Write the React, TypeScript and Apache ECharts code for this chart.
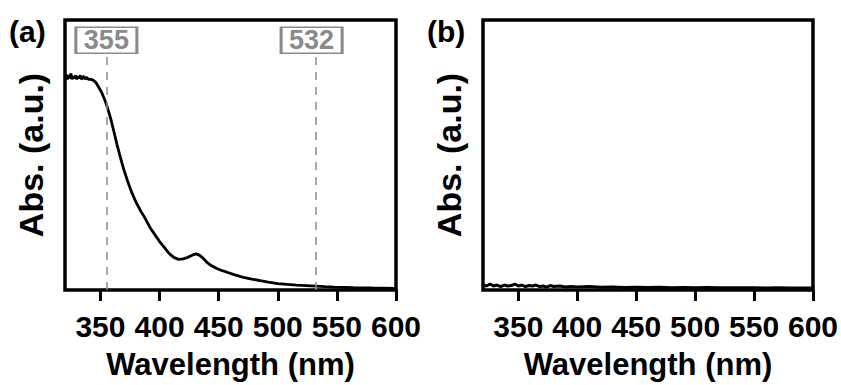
import React, { useEffect, useRef } from "react";
import * as echarts from "echarts";

const tickValues = [350, 400, 450, 500, 550, 600];
const laserLines = [355, 532];

const wavelengthA = [320,321,322,323,324,325,326,327,328,329,330,331,332,333,334,335,336,337,338,339,340,342,344,346,348,350,352,354,356,358,360,362,364,366,368,370,373,376,380,384,388,392,396,400,404,408,412,416,420,424,428,431,434,437,440,444,448,452,457,463,470,478,485,492,500,508,516,524,532,540,548,556,564,572,580,590,600];
const absA = [2.15,2.18,2.13,2.17,2.14,2.19,2.13,2.16,2.14,2.17,2.13,2.16,2.14,2.17,2.13,2.15,2.16,2.13,2.15,2.14,2.13,2.13,2.12,2.10,2.06,2.02,1.97,1.91,1.84,1.76,1.67,1.57,1.47,1.38,1.29,1.21,1.10,1.00,0.89,0.80,0.72,0.63,0.56,0.49,0.43,0.37,0.33,0.31,0.315,0.33,0.355,0.365,0.35,0.32,0.28,0.245,0.22,0.20,0.18,0.155,0.13,0.11,0.095,0.08,0.065,0.057,0.05,0.045,0.04,0.035,0.03,0.027,0.024,0.022,0.02,0.018,0.016];

const wavelengthB = [320,323,326,329,332,335,338,341,344,347,350,353,356,359,362,365,368,371,374,377,380,385,390,395,400,410,420,430,440,450,460,470,480,490,500,510,520,530,540,550,560,570,580,590,600];
const absB = [0.05,0.04,0.06,0.04,0.05,0.035,0.05,0.04,0.045,0.06,0.04,0.05,0.035,0.045,0.04,0.05,0.035,0.04,0.03,0.045,0.035,0.04,0.03,0.035,0.03,0.035,0.028,0.03,0.025,0.028,0.025,0.027,0.024,0.026,0.023,0.025,0.022,0.024,0.022,0.023,0.021,0.022,0.02,0.021,0.02];

const FONT = "Liberation Sans";
const GRAY = "#8a8a8a";

export default function App() {
  const ref = useRef<HTMLDivElement>(null);
  useEffect(() => {
    if (!ref.current) return;
    const chart = echarts.init(ref.current, null, { renderer: "svg" });
    const mkX = (gi: number) => ({
      type: "value",
      gridIndex: gi,
      min: 320,
      max: 600,
      name: "Wavelength (nm)",
      nameLocation: "middle",
      nameGap: 59,
      nameTextStyle: { fontFamily: FONT, fontWeight: "bold", fontSize: 31, color: "#000" },
      axisLine: { show: false },
      axisTick: { show: true, inside: false, length: 11, lineStyle: { color: "#000", width: 3 }, customValues: tickValues },
      axisLabel: { show: true, margin: 21, fontFamily: FONT, fontWeight: "bold", fontSize: 30, color: "#000", customValues: tickValues },
      splitLine: { show: false },
    });
    const mkY = (gi: number) => ({
      type: "value",
      gridIndex: gi,
      min: 0,
      max: 2.73,
      name: "Abs. (a.u.)",
      nameLocation: "middle",
      nameRotate: 90,
      nameGap: 17,
      nameTextStyle: { fontFamily: FONT, fontWeight: "bold", fontSize: 34, color: "#000" },
      axisLine: { show: false },
      axisTick: { show: false },
      axisLabel: { show: false },
      splitLine: { show: false },
    });
    const toPairs = (xs: number[], ys: number[]) => xs.map((x, i) => [x, ys[i]]);
    chart.setOption({
      animation: false,
      grid: [
        { left: 65, top: 20, width: 331, height: 273, show: true, borderColor: "#000", borderWidth: 3.5, backgroundColor: "transparent" },
        { left: 483, top: 20, width: 331, height: 273, show: true, borderColor: "#000", borderWidth: 3.5, backgroundColor: "transparent" },
      ],
      xAxis: [mkX(0), mkX(1)],
      yAxis: [mkY(0), mkY(1)],
      graphic: [
        { type: "text", left: 9, top: 16, style: { text: "(a)", fontFamily: FONT, fontWeight: "bold", fontSize: 30, fill: "#000" } },
        { type: "text", left: 427, top: 16, style: { text: "(b)", fontFamily: FONT, fontWeight: "bold", fontSize: 30, fill: "#000" } },
      ],
      series: [
        {
          type: "line",
          xAxisIndex: 0,
          yAxisIndex: 0,
          data: toPairs(wavelengthA, absA),
          showSymbol: false,
          lineStyle: { color: "#000", width: 2.8 },
          z: 3,
          markLine: {
            silent: true,
            symbol: "none",
            label: { show: false },
            lineStyle: { color: GRAY, width: 1.5, type: [8, 7] },
            data: laserLines.map((v) => ({ xAxis: v })),
          },
          markPoint: {
            silent: true,
            symbol: "rect",
            symbolSize: [61, 26],
            itemStyle: { color: "#fff", borderColor: GRAY, borderWidth: 2 },
            label: { show: true, position: "inside", fontFamily: FONT, fontWeight: "bold", fontSize: 27, color: GRAY, formatter: "{b}" },
            data: [
              { name: "355", coord: [355, 2.525] },
              { name: "532", coord: [532, 2.525], symbolOffset: [-4, 0] },
            ],
          },
        },
        {
          type: "line",
          xAxisIndex: 1,
          yAxisIndex: 1,
          data: toPairs(wavelengthB, absB),
          showSymbol: false,
          lineStyle: { color: "#000", width: 3 },
        },
      ],
    });
    return () => chart.dispose();
  }, []);
  return <div ref={ref} style={{ position: "fixed", left: 0, top: 0, width: 841, height: 385, background: "#fff" }} />;
}
